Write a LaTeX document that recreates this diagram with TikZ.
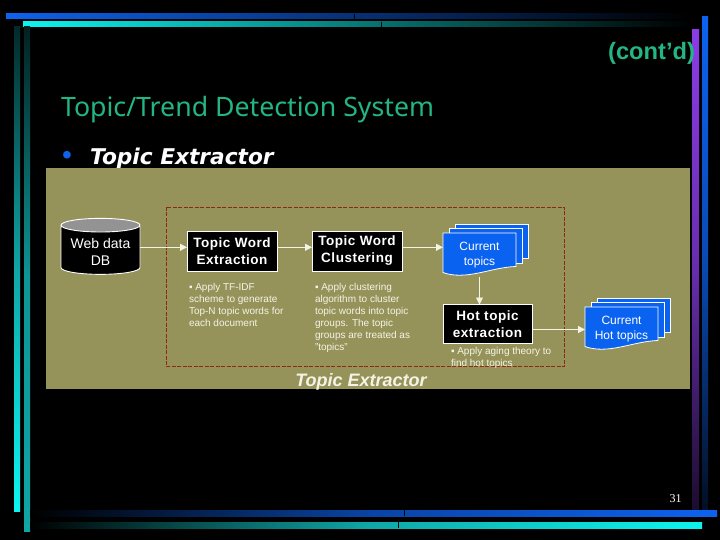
\documentclass[tikz,border=0pt]{standalone}
\usepackage{fontspec}
\setmainfont{Liberation Sans}
\newfontfamily\titlefont{Noto Sans}
\newfontfamily\headfont{DejaVu Sans}
\newfontfamily\numfont{Liberation Serif}
\newfontfamily\spacedfont[LetterSpace=4]{Liberation Sans}
\usepackage{xcolor}
\usetikzlibrary{positioning,arrows.meta,shapes.geometric}
\definecolor{panelolive}{HTML}{96935A}
\definecolor{slidegreen}{HTML}{24B585}
\definecolor{barblue}{HTML}{0D62EE}
\definecolor{barcyan}{HTML}{0CF4F0}
\definecolor{barteal}{HTML}{0FA6A6}
\definecolor{barpurple}{HTML}{8A3CE6}
\definecolor{docblue}{HTML}{0A62F0}
\definecolor{dashred}{HTML}{8E2A14}
\definecolor{cream}{HTML}{F4F4E6}

\newcommand{\docstack}[4]{
  \begin{scope}[shift={(#2,#3)}]
    \draw[sheet] (12,-9) rectangle (85,25);
    \draw[sheet] (6,-4.5) rectangle (79,30);
    \draw[sheet] (0,0) -- (73,0) -- (73,33.5)
      .. controls (58,34) and (45,38.5) .. (30,41)
      .. controls (18,43) and (8,42.5) .. (0,39.5) -- cycle;
  \end{scope}
  \node[doctext] (#1) at (#2+36.5,#3+22.5) {#4};
}

\begin{document}
\begin{tikzpicture}[
  x=1pt, y=-1pt,
  every node/.style={inner sep=0pt, outer sep=0pt},
  stepbox/.style={
    rectangle, draw=white, fill=black, line width=0.9pt, text=white,
    minimum width=90pt, minimum height=40pt, align=center,
    font=\spacedfont\fontsize{13.5}{17}\selectfont\bfseries
  },
  dbnode/.style={
    cylinder, shape border rotate=90, aspect=0.32, draw=white, line width=0.9pt,
    cylinder uses custom fill, cylinder body fill=black, cylinder end fill=gray!85,
    minimum width=79pt, minimum height=56pt
  },
  dblabel/.style={text=white, align=center, font=\fontsize{14}{17}\selectfont},
  sheet/.style={draw=white, fill=docblue, line width=0.8pt},
  doctext/.style={
    minimum width=73pt, minimum height=42pt, text=white, align=center,
    font=\fontsize{12}{15}\selectfont
  },
  note/.style={
    anchor=north west, align=left, text=cream,
    font=\fontsize{10}{12}\selectfont
  },
  arrow/.style={-{Triangle[length=7pt,width=7pt]}, draw=cream, line width=0.8pt}
]
\useasboundingbox (0,0) rectangle (720,540);
\fill[black] (0,0) rectangle (720,540);

% frame bars
\shade[left color=barblue, middle color=barblue!80!black, right color=black] (6,14) rectangle (690,19);
\shade[left color=barcyan, middle color=barteal, right color=black] (23,22) rectangle (690,27);
\shade[top color=barteal!25!black, bottom color=barcyan, middle color=barteal] (14,27) rectangle (20,511);
\shade[top color=barteal!20!black, bottom color=barteal, middle color=barteal!90!black] (24,27) rectangle (30,531);
\shade[top color=barpurple, bottom color=barpurple!20!black, middle color=barpurple!75!black] (692,30) rectangle (699,510);
\shade[top color=barblue, bottom color=barblue!15!black, middle color=barblue!75!black] (702,17) rectangle (708,510);
\shade[left color=black, right color=barblue, middle color=barblue!70!black] (30,510) rectangle (717,516);
\shade[left color=black, right color=barcyan, middle color=barteal] (30,522) rectangle (702,528);
\draw[black, line width=0.4pt] (354,14) -- (354,19) (381,22) -- (381,27) (404,510) -- (404,516) (398,522) -- (398,528);

% slide texts
\node[anchor=east, text=slidegreen, font=\fontsize{23.7}{27}\selectfont\bfseries] (cont) at (695,53) {(cont'd)};
\node[anchor=west, text=slidegreen, font=\titlefont\fontsize{26.7}{32}\selectfont] (title) at (61,110) {Topic/Trend Detection System};
\node[text=barblue, font=\fontsize{28}{28}\selectfont] (dot) at (67,158) {•};
\node[anchor=west, text=white, font=\headfont\fontsize{21.7}{25}\selectfont\bfseries\itshape] (head) at (90,159) {Topic Extractor};
\node[text=white, font=\numfont\fontsize{12}{14}\selectfont] (page) at (675.5,499) {31};

% panel
\fill[panelolive] (46,168) rectangle (690,389);
\draw[dashred, dash pattern=on 4pt off 1.5pt, line width=0.9pt] (166,207) rectangle (564.5,366.5);

\node[dbnode] (db) at (100.5,250) {\phantom{Web data}};
\node[dblabel] (dbname) at (100.5,252) {Web data\\DB};
\coordinate (flow) at ([yshift=2.7pt]db.east);
\node[stepbox] (ext) at (232,251) {Topic Word\\Extraction};
\node[stepbox, right=35pt of ext] (clu) {Topic Word\\Clustering};
\node[stepbox, minimum width=89pt, minimum height=39pt] (hot) at (487.5,324) {Hot topic\\extraction};
\docstack{topics}{443}{233}{Current\\topics}
\docstack{hots}{585}{307}{Current\\Hot topics}

\node[note] (extnote) at (189,283) {▪ Apply TF-IDF\\scheme to generate\\Top-N topic words for\\each document};
\node[note] (clunote) at (315,283) {▪ Apply clustering\\algorithm to cluster\\topic words into topic\\groups. The topic\\groups are treated as\\"topics"};
\node[note] (hotnote) at (451,347) {▪ Apply aging theory to\\find hot topics};
\node[text=cream, font=\fontsize{18}{20}\selectfont\bfseries\itshape] (panelname) at (361,382) {Topic Extractor};

\draw[arrow] (flow) -- (flow -| ext.west);
\draw[arrow] (flow -| ext.east) -- (flow -| clu.west);
\draw[arrow] (flow -| clu.east) -- (flow -| topics.west);
\draw[arrow] (topics.south) -- (topics.south |- hot.north);
\draw[arrow, line width=1.3pt] (hots.west -| hot.east) -- (hots.west);
\end{tikzpicture}
\end{document}
